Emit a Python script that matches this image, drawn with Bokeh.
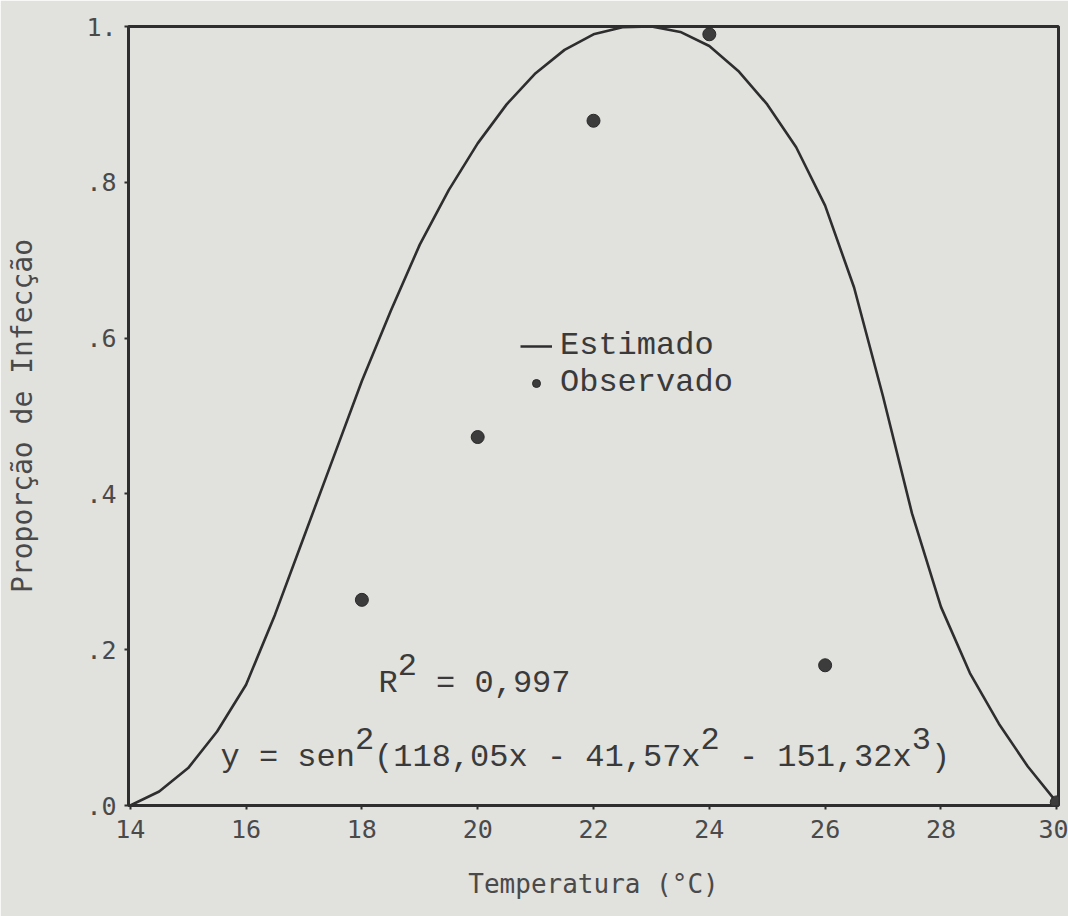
from bokeh.plotting import figure
from bokeh.models import Range1d, FixedTicker, Label, Legend, LegendItem
from bokeh.embed import file_html
from bokeh.resources import INLINE

# ---------------- data ----------------
temp_obs = [18, 20, 22, 24, 26, 30]
prop_obs = [0.264, 0.473, 0.879, 0.99, 0.18, 0.004]

temp_est = [14.0, 14.5, 15.0, 15.5, 16.0, 16.5, 17.0, 17.5, 18.0, 18.5,
            19.0, 19.5, 20.0, 20.5, 21.0, 21.5, 22.0, 22.5, 23.0, 23.5,
            24.0, 24.5, 25.0, 25.5, 26.0, 26.5, 27.0, 27.5, 28.0, 28.5,
            29.0, 29.5, 30.0]
prop_est = [0.0, 0.018, 0.048, 0.095, 0.155, 0.245, 0.345, 0.445, 0.545, 0.635,
            0.72, 0.79, 0.85, 0.90, 0.94, 0.97, 0.99, 0.999, 1.0, 0.993,
            0.975, 0.943, 0.90, 0.845, 0.77, 0.665, 0.525, 0.375, 0.255, 0.17,
            0.105, 0.05, 0.004]

x_ticks = [14, 16, 18, 20, 22, 24, 26, 28, 30]
y_ticks = [0.0, 0.2, 0.4, 0.6, 0.8, 1.0]
y_tick_labels = [".0", ".2", ".4", ".6", ".8", "1."]

series_labels = ["Estimado", "Observado"]
x_title = "Temperatura (°C)"
y_title = "Proporção de Infecção"
# (text, character cell, superscript?)
r2_pieces = [("R", 0, False), ("2", 1, True), ("= 0,997", 3, False)]
eq_pieces = [("y = sen", 0, False), ("2", 7, True),
             ("(118,05x - 41,57x", 8, False), ("2", 25, True),
             ("- 151,32x", 27, False), ("3", 36, True), (")", 37, False)]

# ---------------- layout / style ----------------
W, H = 1068, 916
LEFT, RIGHT, TOP, BOTTOM = 128, 10, 26, 111
X0, X1 = 13.97, 30.03
Y0, Y1 = 0.0, 1.0
FW = W - LEFT - RIGHT
FH = H - TOP - BOTTOM

BG = "#e1e1de"
INK = "#2e2e2e"
TXT = "#3a3a3a"
SANS_TXT = "#4a4a4a"
TYPE_FONT = "Liberation Mono"
SANS_FONT = "DejaVu Sans Mono"
TYPE_SIZE = 32
ADV = 0.6 * TYPE_SIZE
SUP_RAISE = 19


def dx(px):
    return X0 + (px - LEFT) / FW * (X1 - X0)


def dy(py):
    return Y1 - (py - TOP) / FH * (Y1 - Y0)


p = figure(width=W, height=H, output_backend="svg", toolbar_location=None,
           x_range=Range1d(X0, X1), y_range=Range1d(Y0, Y1),
           min_border_left=LEFT, min_border_right=RIGHT,
           min_border_top=TOP, min_border_bottom=BOTTOM)

p.background_fill_color = BG
p.border_fill_color = BG
p.outline_line_color = INK
p.outline_line_width = 3
p.xgrid.visible = False
p.ygrid.visible = False

for ax in (p.xaxis[0], p.yaxis[0]):
    ax.axis_line_color = None
    ax.minor_tick_line_color = None
    ax.major_tick_in = 0
    ax.major_tick_out = 4
    ax.major_tick_line_color = INK
    ax.major_tick_line_width = 2
    ax.major_label_text_font = SANS_FONT
    ax.major_label_text_font_size = "25px"
    ax.major_label_text_color = SANS_TXT
    ax.axis_label_text_font = SANS_FONT
    ax.axis_label_text_font_style = "normal"
    ax.axis_label_text_color = SANS_TXT

p.xaxis.axis_label_text_font_size = "26px"
p.yaxis.axis_label_text_font_size = "28px"
p.xaxis.ticker = FixedTicker(ticks=x_ticks)
p.yaxis.ticker = FixedTicker(ticks=y_ticks)
p.yaxis.major_label_overrides = dict(zip(y_ticks, y_tick_labels))
p.xaxis.major_label_standoff = 10
p.yaxis.major_label_standoff = 8
p.xaxis.axis_label = x_title
p.yaxis.axis_label = y_title
p.xaxis.axis_label_standoff = 28
p.yaxis.axis_label_standoff = 44

line_r = p.line(temp_est, prop_est, line_width=2.6, line_color=INK,
                line_join="round")
pts_r = p.scatter(temp_obs, prop_obs, size=13, fill_color="#3c3c3c",
                  line_color="#2a2a2a")

legend = Legend(items=[LegendItem(label=series_labels[0], renderers=[line_r]),
                       LegendItem(label=series_labels[1], renderers=[pts_r])],
                location=(392, 404))
legend.label_text_font = TYPE_FONT
legend.label_text_font_size = f"{TYPE_SIZE}px"
legend.label_text_color = TXT
legend.glyph_width = 32
legend.glyph_height = 20
legend.label_standoff = 8
legend.padding = 0
legend.margin = 0
legend.spacing = 0
legend.border_line_color = None
legend.background_fill_alpha = 0
p.add_layout(legend)


def add_pieces(px0, py0, pieces):
    for text, cell, sup in pieces:
        py = py0 - SUP_RAISE if sup else py0
        p.add_layout(Label(x=dx(px0 + cell * ADV), y=dy(py), text=text,
                           text_font=TYPE_FONT,
                           text_font_size=f"{TYPE_SIZE}px", text_color=TXT,
                           text_baseline="alphabetic", text_align="left"))


add_pieces(378, 683, r2_pieces)
add_pieces(220, 757, eq_pieces)

open("out.html", "w").write(file_html(p, INLINE))
